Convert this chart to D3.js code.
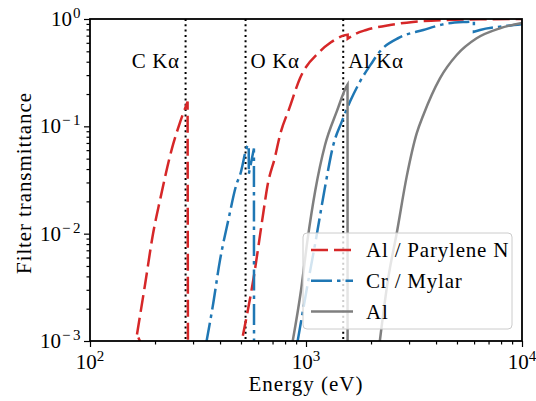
<!DOCTYPE html>
<html lang="en">
<head>
<meta charset="UTF-8">
<title>Filter transmittance</title>
<script src="https://d3js.org/d3.v7.min.js"></script>
<style>
  body { margin: 0; background: #fff; }
</style>
</head>
<body>
<div id="chart"></div>
<script>
// energies (eV) of the marked emission lines
const lineE = [277, 525, 1487]
const lineNames = ["C Kα", "O Kα", "Al Kα"]

// [energy eV, transmittance], one array per segment
const alParySeg1 = [[165, 0.00115], [180, 0.0034], [196, 0.0101], [211, 0.0206], [240, 0.063], [262, 0.111], [283, 0.17], [284.5, 0.0001]]
const alParySeg2 = [[510, 0.00112], [570, 0.0037], [634, 0.0155], [662, 0.0274], [719, 0.052], [758, 0.083], [840, 0.15],
  [938, 0.28], [1161, 0.50], [1300, 0.603], [1488, 0.70], [1559, 0.715], [1560, 0.655], [1700, 0.73], [1900, 0.79],
  [2449, 0.88], [3126, 0.94], [4477, 0.98], [6391, 0.994], [10000, 0.998]]
const crMylarSeg1 = [[345, 0.00095], [370, 0.0021], [400, 0.0057], [437, 0.0134], [478, 0.0294], [495, 0.0352],
  [541, 0.067], [543, 0.067], [543.5, 0.036], [574, 0.062], [575, 0.0001]]
const crMylarSeg2 = [[915, 0.001], [1007, 0.003], [1110, 0.0087], [1218, 0.0255], [1338, 0.067], [1463, 0.110],
  [1599, 0.170], [1778, 0.261], [2000, 0.38], [2201, 0.50], [2700, 0.67], [3491, 0.79], [4481, 0.905], [5741, 0.944],
  [5988, 0.95], [5990, 0.76], [6391, 0.79], [7907, 0.848], [10000, 0.895]]
const alSeg1 = [[868, 0.001], [949, 0.003], [1016, 0.0087], [1105, 0.0255], [1225, 0.067], [1387, 0.137], [1553, 0.243],
  [1557, 0.245], [1558, 0.0001]]
const alSeg2 = [[2190, 0.00095], [2400, 0.0038], [2630, 0.0101], [2925, 0.034], [3254, 0.086], [3491, 0.127],
  [4170, 0.28], [4985, 0.462], [6166, 0.661], [7907, 0.819], [10000, 0.918]]

const seriesNames = ["Al / Parylene N", "Cr / Mylar", "Al"]
const seriesSegs = [[alParySeg1, alParySeg2], [crMylarSeg1, crMylarSeg2], [alSeg1, alSeg2]]
const seriesColors = ["#d62728", "#1f77b4", "#7f7f7f"]
const seriesDash = ["17,6", "21,5,3.5,5", null]

const xMajor = [100, 1000, 10000]
const yMajor = [1e-3, 1e-2, 1e-1, 1]
const xExp = ["2", "3", "4"]
const yExp = ["−3", "−2", "−1", "0"]

const width = 536
const height = 401
const pL = 90, pR = 522, pT = 19, pB = 341
const FONT = "Liberation Serif"

const x = d3.scaleLog().domain([100, 10000]).range([pL, pR])
const y = d3.scaleLog().domain([1e-3, 1]).range([pB, pT])

const minors = (lo, hi) => {
    const out = []
    for (let d = lo; d < hi; d *= 10)
        for (let k = 2; k <= 9; k++) out.push(d * k)
    return out
}

const svg = d3.select("#chart").append("svg")
    .attr("width", width)
    .attr("height", height)

svg.append("clipPath").attr("id", "clip")
  .append("rect")
    .attr("x", pL).attr("y", pT)
    .attr("width", pR - pL).attr("height", pB - pT)

const plot = svg.append("g").attr("clip-path", "url(#clip)")

// vertical dotted lines at the emission energies
plot.selectAll(".kline")
    .data(lineE)
    .enter().append("line")
    .attr("x1", d => x(d)).attr("x2", d => x(d))
    .attr("y1", pT).attr("y2", pB)
    .attr("stroke", "#000")
    .attr("stroke-width", 2)
    .attr("stroke-dasharray", "2,3.3")

// smooth between points, but keep the absorption edges as sharp drops
const smooth = d3.line().x(d => x(d[0])).y(d => y(d[1])).curve(d3.curveMonotoneX)
const edgePath = seg => {
    const pieces = [[seg[0]]]
    for (let k = 1; k < seg.length; k++) {
        if (seg[k][1] < seg[k - 1][1]) pieces.push([])
        pieces[pieces.length - 1].push(seg[k])
    }
    return pieces.map((p, k) => {
        const s = smooth(p)
        return k === 0 ? s : "L" + s.slice(1)
    }).join("")
}

seriesSegs.forEach((segs, i) => {
    segs.forEach(seg => {
        plot.append("path")
            .attr("fill", "none")
            .attr("stroke", seriesColors[i])
            .attr("stroke-width", 2.5)
            .attr("stroke-dasharray", seriesDash[i])
            .attr("d", edgePath(seg))
    })
})

const txt = (sel, size, spacing) => sel
    .attr("font-family", FONT)
    .attr("font-size", size)
    .attr("letter-spacing", spacing)
    .attr("fill", "#000")

// line labels
svg.selectAll(".klabel")
    .data(lineE)
    .enter().append("text")
    .attr("x", (d, i) => i === 0 ? x(d) - 6 : x(d) + 5)
    .attr("y", 68)
    .attr("text-anchor", (d, i) => i === 0 ? "end" : "start")
    .call(txt, 21, 0.6)
    .text((d, i) => lineNames[i])

// axes
const xAxis = svg.append("g").attr("transform", `translate(0,${pB})`)
xAxis.call(d3.axisBottom(x).tickValues(xMajor).tickSize(6).tickFormat(""))
xAxis.append("g").call(d3.axisBottom(x).tickValues(minors(100, 10000)).tickSize(3.5).tickFormat(""))
const yAxis = svg.append("g").attr("transform", `translate(${pL},0)`)
yAxis.call(d3.axisLeft(y).tickValues(yMajor).tickSize(6).tickFormat(""))
yAxis.append("g").call(d3.axisLeft(y).tickValues(minors(1e-3, 1)).tickSize(3.5).tickFormat(""))
svg.selectAll(".domain").remove()
svg.selectAll(".tick line").attr("stroke", "#000").attr("stroke-width", 1.2)

const xl = svg.selectAll(".xlab")
    .data(xMajor)
    .enter().append("text")
    .attr("x", d => x(d))
    .attr("y", 369)
    .attr("text-anchor", "middle")
    .call(txt, 21, 0)
xl.append("tspan").text("10")
xl.append("tspan").attr("dy", -8).attr("font-size", 15).text((d, i) => xExp[i])

const yl = svg.selectAll(".ylab")
    .data(yMajor)
    .enter().append("text")
    .attr("x", 83)
    .attr("y", d => y(d) + 7)
    .attr("text-anchor", "end")
    .call(txt, 21, 0)
yl.append("tspan").text("10")
yl.append("tspan").attr("dy", -8).attr("font-size", 15).attr("letter-spacing", 2.5).attr("dx", 1)
    .text((d, i) => yExp[i])

svg.append("rect")
    .attr("x", pL).attr("y", pT)
    .attr("width", pR - pL).attr("height", pB - pT)
    .attr("fill", "none")
    .attr("stroke", "#000")
    .attr("stroke-width", 1.8)

svg.append("text")
    .attr("x", (pL + pR) / 2)
    .attr("y", 391)
    .attr("text-anchor", "middle")
    .call(txt, 21, 1)
    .text("Energy (eV)")

svg.append("text")
    .attr("transform", `translate(31,${(pT + pB) / 2 + 3}) rotate(-90)`)
    .attr("text-anchor", "middle")
    .call(txt, 21, 0.9)
    .text("Filter transmittance")

// legend
const legend = svg.append("g")
legend.append("rect")
    .attr("x", 303).attr("y", 233)
    .attr("width", 209).attr("height", 96)
    .attr("rx", 4)
    .attr("fill", "#fff").attr("fill-opacity", 0.8)
    .attr("stroke", "#ccc").attr("stroke-width", 1)
seriesNames.forEach((name, i) => {
    const ly = 250 + i * 30.8
    legend.append("line")
        .attr("x1", 311).attr("x2", 353)
        .attr("y1", ly).attr("y2", ly)
        .attr("stroke", seriesColors[i])
        .attr("stroke-width", 2.5)
        .attr("stroke-dasharray", seriesDash[i])
    legend.append("text")
        .attr("x", 366).attr("y", ly + 7)
        .call(txt, 21, 0.8)
        .text(name)
})
</script>
</body>
</html>
